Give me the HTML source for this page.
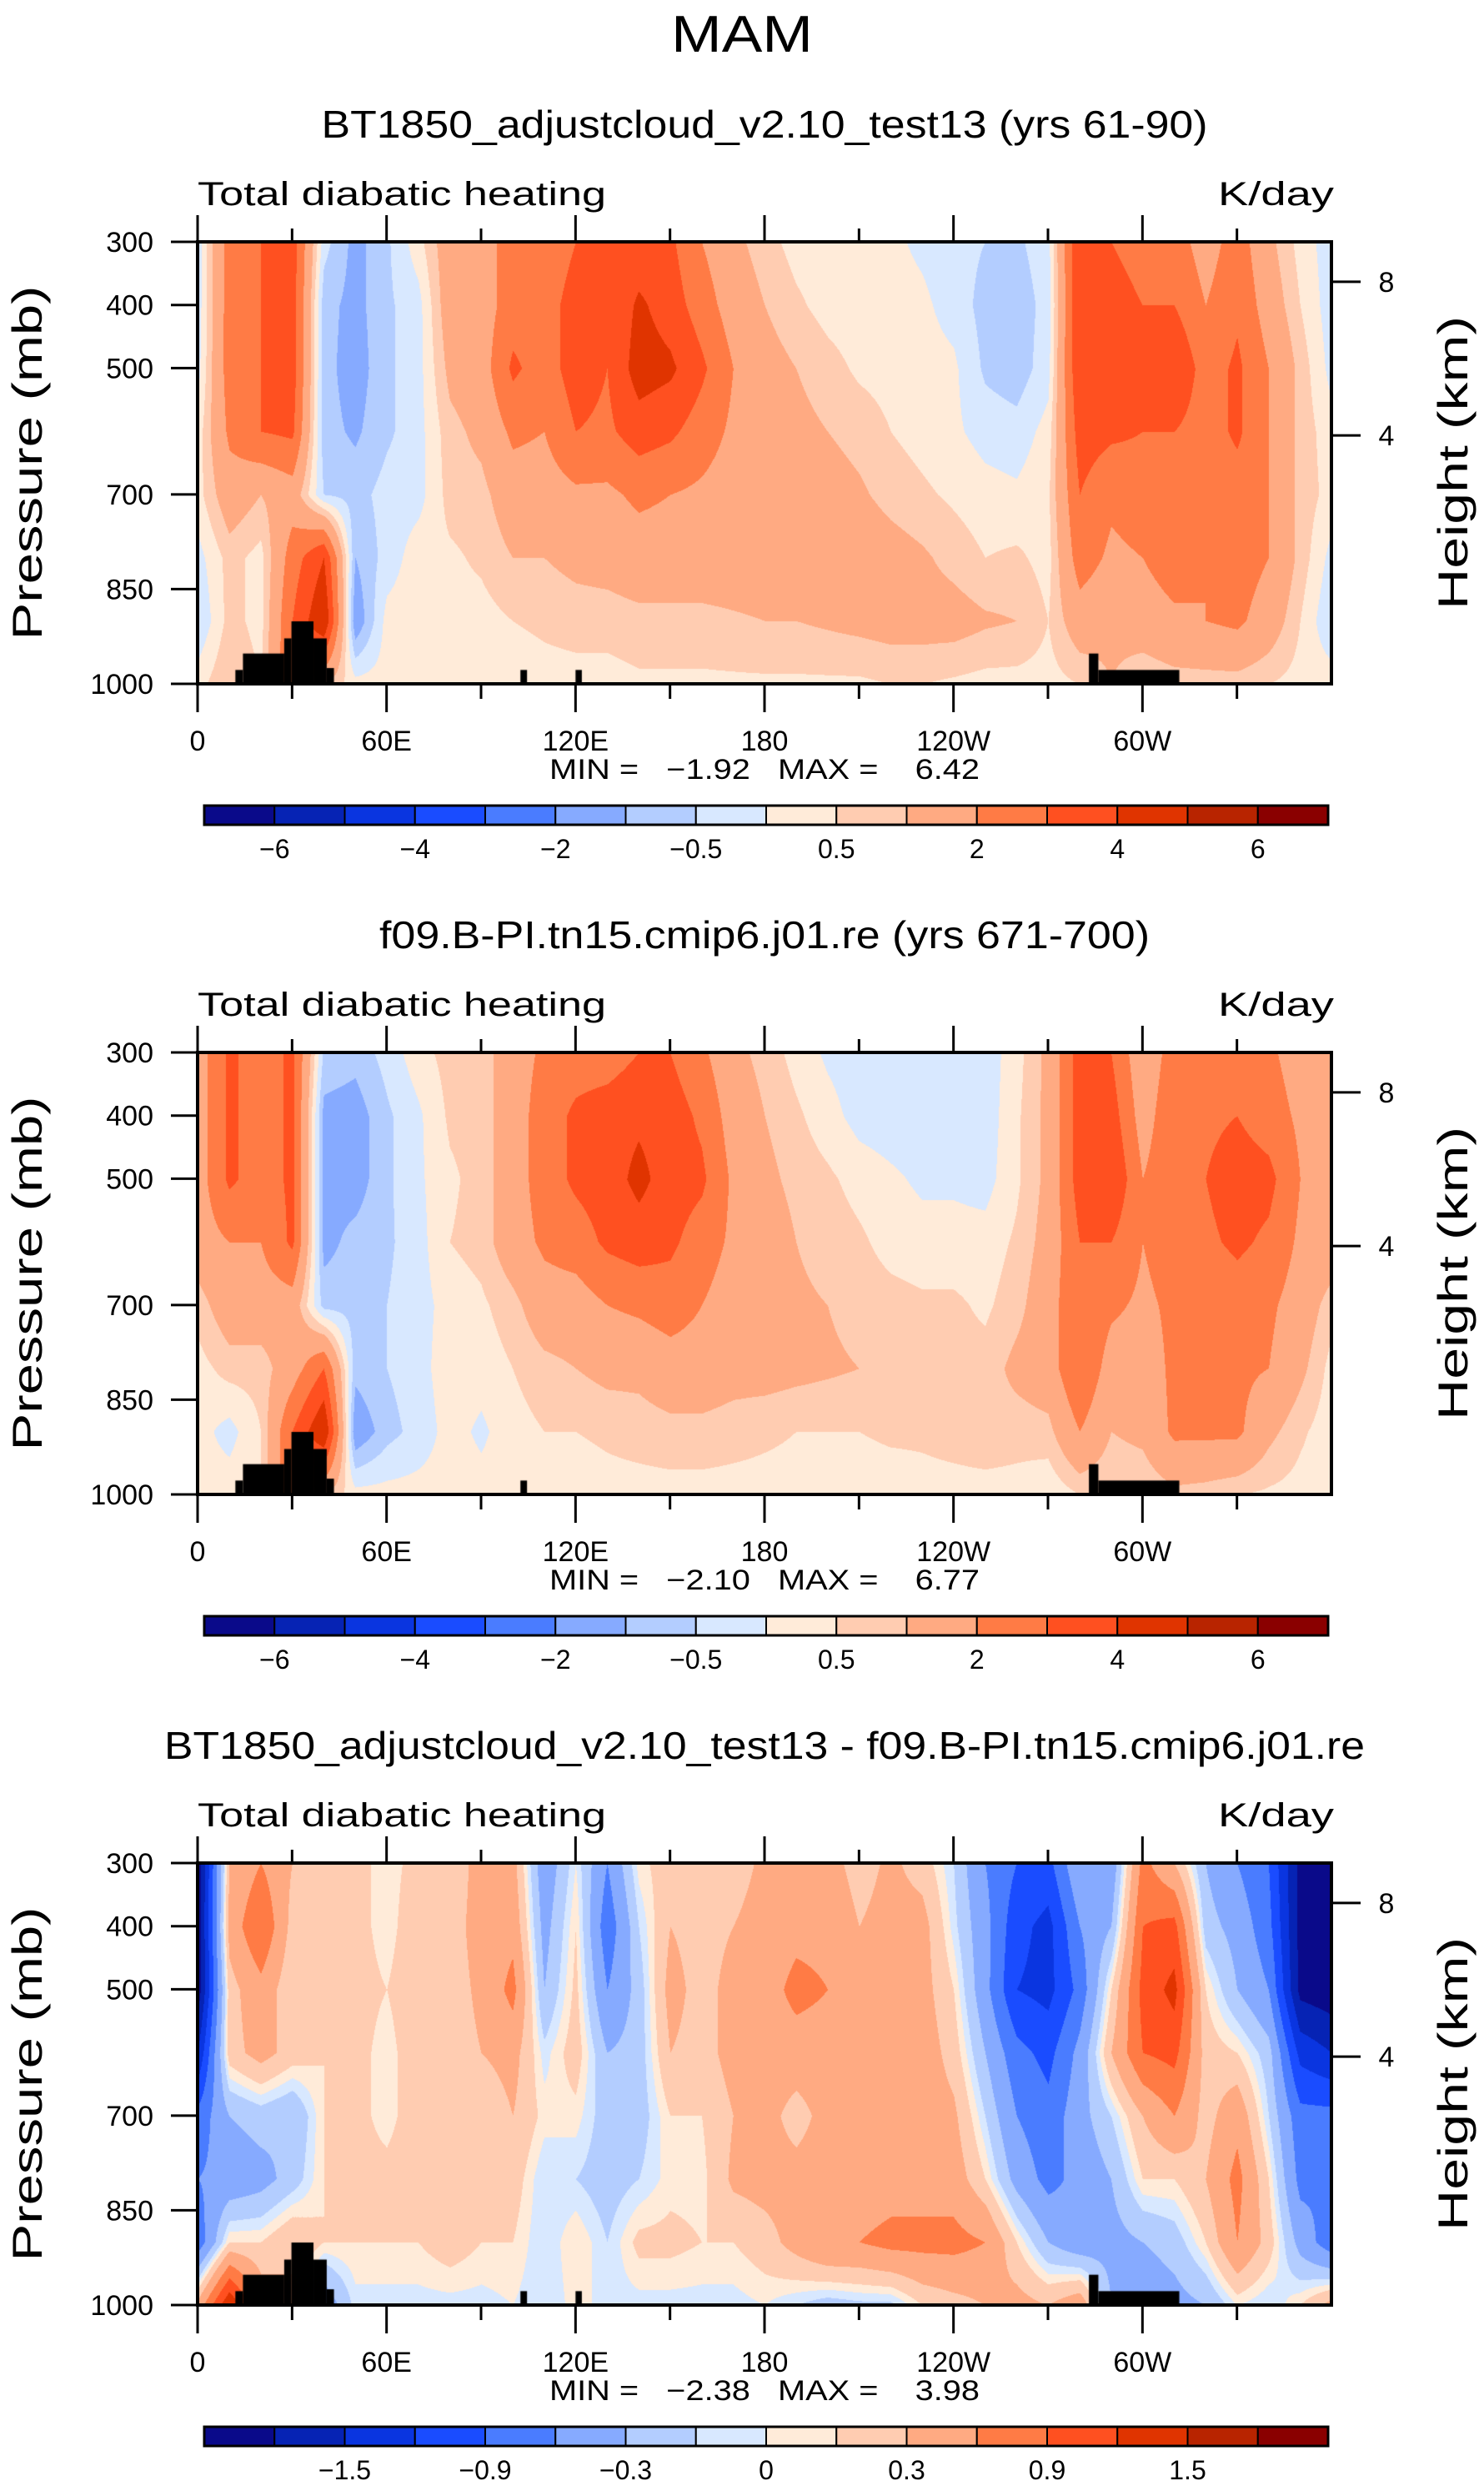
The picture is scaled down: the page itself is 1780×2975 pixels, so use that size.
<!DOCTYPE html>
<html><head><meta charset="utf-8">
<style>
html,body{margin:0;padding:0;background:#fff;}
#wrap{position:relative;width:1780px;height:2975px;overflow:hidden;}
canvas{position:absolute;}
svg{position:absolute;left:0;top:0;}
text{font-family:"Liberation Sans",sans-serif;fill:#000;}
</style></head>
<body>
<div id="wrap">
<canvas id="c0" width="1360" height="530" style="left:237px;top:290px"></canvas>
<canvas id="c1" width="1360" height="530" style="left:237px;top:1262px"></canvas>
<canvas id="c2" width="1360" height="530" style="left:237px;top:2234px"></canvas>
<svg id="ov" width="1780" height="2975" xmlns="http://www.w3.org/2000/svg"></svg>
</div>
<script>
// ---- data ----
const lons = [0,10,20,30,40,50,60,70,80,90,100,110,120,130,140,150,160,170,180,190,200,210,220,230,240,250,260,270,280,290,300,310,320,330,340,350,360];
const pressures = [300,400,500,600,700,800,900,1000];
// values per longitude column: [300,400,500,600,700,800,900,1000]
const field1 = [
[-0.3,-0.3,-0.2,0.2,0.3,-0.2,-0.5,0.3],
[2.5,2.5,2.5,2.2,1.5,0.7,0.7,1],
[3,3,3,3,1,0.3,0.3,0.5],
[3.5,3.5,3.5,3.2,1.5,2.5,3,3],
[-0.3,-0.8,-0.8,-0.8,-0.5,4,5,1],
[-1.2,-1.2,-1.3,-1.1,-0.7,-1,-1.5,0.2],
[-0.6,-0.6,-0.6,-0.6,-0.3,-0.3,0.2,0.2],
[0.3,-0.2,-0.2,-0.2,-0.2,0.3,0.3,0.2],
[1.5,1.5,1.2,0.8,0.7,0.4,0.3,0.2],
[1.5,1.5,1.5,1.2,0.8,0.6,0.3,0.2],
[2.5,2.5,3.2,2.2,1.5,1,0.5,0.2],
[2.2,2.5,2.5,2,1.5,1,0.6,0.3],
[3,3.5,3.5,3,1.8,1.2,0.7,0.3],
[3,3,3,2.8,1.8,1.3,0.7,0.3],
[3.3,4.2,4.5,3.5,2.2,1.5,0.8,0.4],
[3.2,3.5,4.2,3.2,2,1.5,0.8,0.4],
[2,2.5,3.2,2.5,1.8,1.5,0.8,0.4],
[1.2,1.5,2,1.8,1.5,1.5,0.9,0.4],
[0.7,1,1.3,1.5,1.5,1.5,1,0.4],
[0.3,0.6,1,1.2,1.5,1.5,1,0.4],
[0.2,0.3,0.7,1,1.3,1.5,1.1,0.4],
[0.1,0.2,0.4,0.8,1.1,1.5,1.2,0.4],
[0.1,0.2,0.3,0.5,0.8,1.3,1.3,0.5],
[-0.1,0.1,0.2,0.3,0.6,1.1,1.3,0.5],
[-0.3,-0.2,0.1,0.1,0.4,0.8,1.3,0.4],
[-0.5,-0.7,-0.6,-0.2,0.2,0.5,1.1,0.3],
[-0.6,-0.8,-0.8,-0.3,0.1,0.6,1,0.3],
[-0.2,-0.3,-0.2,0.2,0.4,0.3,0.5,0.3],
[4,4,4,3.5,3,2.5,1.5,0.5],
[3,3.5,4,3.2,2.2,1.8,1.2,1],
[2.5,3,3.2,3,2.5,2,1.5,0.5],
[2.5,3,4,3,2.8,2.5,1.8,0.7],
[1.5,2,2.5,2.5,2.2,2,2,0.7],
[2.5,2.8,3.2,3.2,2.5,2.5,2.2,0.7],
[1.2,1.5,2,2,2,2,1.5,0.5],
[0.3,0.5,0.8,0.8,0.8,0.8,0.5,0.3],
[-0.3,-0.3,-0.2,0.2,0.3,-0.2,-0.5,0.3]
];
const field2 = [
[1.5,1.5,1.5,1.5,0.7,0.3,0.2,0.2],
[3.2,3.2,3.2,2,1.5,0.7,-0.2,0.3],
[2.5,2.5,2.5,2,1.5,0.7,0.5,0.5],
[3.2,3.2,3.2,3.2,1.5,1.5,3,3],
[-0.6,-1.2,-1.2,-1.2,-0.7,3,5,1],
[-0.8,-1.3,-1.3,-0.8,-0.7,-0.8,-1.5,0.2],
[-0.3,-0.6,-0.6,-0.6,-0.5,-0.5,-0.7,0.2],
[0.3,-0.1,-0.1,-0.2,-0.2,-0.2,-0.3,0.2],
[0.7,0.6,0.4,0.5,0.2,0.3,0.2,0.2],
[0.7,0.7,0.7,0.7,0.4,0.2,-0.1,0.2],
[1.5,1.5,1.5,1.5,0.8,0.5,0.3,0.2],
[2.2,2.5,2.5,2.2,1.5,0.8,0.5,0.2],
[2.5,3.2,3.2,2.5,1.5,1,0.5,0.2],
[2.5,3.5,3.5,3.2,2,1.2,0.6,0.3],
[3,3.8,4.3,3.5,2.2,1.2,0.7,0.3],
[3,3.5,3.5,3.2,2.5,1.5,0.8,0.3],
[2.2,2.8,3.2,2.5,2,1.5,0.8,0.3],
[1.2,1.5,1.8,1.8,1.5,1.3,0.7,0.3],
[0.8,1,1.2,1.5,1.5,1.3,0.6,0.3],
[0.3,0.6,0.8,1,1.1,1.2,0.5,0.3],
[-0.1,0.2,0.6,0.8,1,1.1,0.5,0.2],
[-0.3,-0.2,0.3,0.6,0.8,1,0.5,0.2],
[-0.3,-0.3,0.1,0.3,0.7,0.8,0.6,0.2],
[-0.3,-0.3,-0.1,0.2,0.6,0.7,0.6,0.3],
[-0.3,-0.3,-0.1,0.2,0.6,0.7,0.7,0.3],
[-0.3,-0.3,-0.2,0.2,0.4,0.7,0.8,0.3],
[0.3,0.4,0.4,0.6,0.8,1.2,0.7,0.3],
[1.2,1.2,1.2,1.3,1.5,1.5,0.8,0.1],
[3.5,3.5,3.5,3,3,3,2,0.5],
[3,3.5,4,3,2.2,1.5,1,0.5],
[1.2,1.5,2,2,1.8,1.5,1.2,0.5],
[2.5,2.8,2.8,2.5,2.2,2.2,2.2,0.8],
[2.5,2.8,3,2.8,2.2,2.2,2.2,0.7],
[2.5,3,3.5,3.2,2.5,2.2,2.2,0.5],
[2.2,2.5,3.3,2.8,2.2,2,1.2,0.4],
[1.5,1.8,2,1.8,1.5,1.2,0.6,0.3],
[1.5,1.5,1.5,1.5,0.7,0.3,0.2,0.2]
];
const field3 = [
[-2,-2,-2,-1.5,-0.8,-0.6,-0.8,0.4],
[0.3,0.4,0.2,0.2,-0.3,-0.5,0.1,1.5],
[0.6,0.9,0.5,0.4,-0.2,-0.4,0.1,0.5],
[0.3,0.2,0.1,0.2,-0.3,-0.2,0.3,0.3],
[0.2,0.2,0.1,0.1,0.1,0.1,0.1,-0.5],
[0.15,0.15,0.15,0.15,0.15,0.15,0.1,-0.05],
[0.05,0.05,0.1,0.05,0.05,0.15,0.1,-0.05],
[0.15,0.2,0.2,0.2,0.2,0.2,0.1,-0.05],
[0.15,0.2,0.2,0.2,0.15,0.15,0.2,-0.05],
[0.4,0.4,0.35,0.3,0.1,0.15,0.1,-0.05],
[0.4,0.5,0.7,0.4,0.3,0.2,0.1,0],
[-0.5,-0.4,-0.3,-0.05,0.05,-0.1,-0.1,-0.1],
[0,0.1,0.15,0.2,0.05,-0.1,0.1,0.05],
[-0.6,-0.8,-0.6,-0.3,-0.2,-0.2,-0.1,-0.05],
[0.05,-0.1,-0.2,-0.2,-0.2,-0.1,0.15,-0.05],
[0.2,0.3,0.4,0.3,0.1,0.05,0.15,-0.05],
[0.1,0.2,0.2,0.2,0.1,0.05,0.1,-0.05],
[0.2,0.3,0.4,0.4,0.3,0.35,0.1,-0.05],
[0.35,0.4,0.45,0.45,0.4,0.4,0.2,0],
[0.4,0.5,0.7,0.45,0.2,0.4,0.4,-0.1],
[0.4,0.5,0.6,0.45,0.4,0.45,0.6,-0.2],
[0.2,0.3,0.4,0.4,0.4,0.4,0.6,-0.15],
[0.35,0.4,0.4,0.45,0.45,0.45,0.7,-0.15],
[0.2,0.4,0.4,0.45,0.45,0.45,0.7,0.1],
[-0.1,-0.05,0.1,0.2,0.35,0.45,0.7,0.2],
[-0.6,-0.5,-0.5,-0.3,-0.1,0.1,0.6,0.3],
[-0.9,-1.1,-1.2,-0.8,-0.6,-0.4,0.1,0.4],
[-1,-1.3,-1.3,-1,-0.8,-0.7,-0.3,0.3],
[-0.3,-0.6,-0.8,-0.5,-0.4,-0.5,-0.5,0.5],
[-0.5,-0.3,0.1,0.3,-0.1,-0.3,-0.4,-0.3],
[0.7,0.9,1,0.9,0.3,0.1,-0.3,-0.5],
[0.3,1,1.3,1,0.6,0.1,-0.2,-0.4],
[-0.3,-0.2,0.1,0.2,0.2,0.3,0.1,-0.3],
[-0.6,-0.4,-0.3,0.1,0.5,0.7,0.6,0],
[-0.9,-0.8,-0.6,-0.2,-0.1,0.1,0.2,-0.1],
[-1.9,-1.9,-1.9,-1.3,-0.8,-0.7,-0.4,0.1],
[-2,-2,-2,-1.5,-0.8,-0.6,-0.8,0.4]
];
const levelsK = [-6,-5,-4,-3,-2,-1,-0.5,0,0.5,1,2,3,4,5,6];
const levelsD = [-1.8,-1.5,-1.2,-0.9,-0.6,-0.3,-0.1,0,0.1,0.3,0.6,0.9,1.2,1.5,1.8];
const labelsK = ["-6","-4","-2","-0.5","0.5","2","4","6"];
const labelsD = ["-1.5","-0.9","-0.3","0","0.3","0.9","1.5"];
// topography: [lon start, lon end, top pressure]
const topoStart = [12,14.4,27.5,29.8,36.8,41,102.5,120,283,286];
const topoEnd   = [14.4,27.5,29.8,36.8,41,43.3,104.6,122,286,311.7];
const topoTop   = [978,952,928,901,928,975,978,978,952,978];
const titles = ["BT1850_adjustcloud_v2.10_test13 (yrs 61-90)","f09.B-PI.tn15.cmip6.j01.re (yrs 671-700)","BT1850_adjustcloud_v2.10_test13 - f09.B-PI.tn15.cmip6.j01.re"];
const minVals = ["\u22121.92","\u22122.10","\u22122.38"];
const maxVals = ["6.42","6.77","3.98"];
const xTickLabels = ["0","60E","120E","180","120W","60W"];
const xTickLons = [0,60,120,180,240,300];
const yTickP = [300,400,500,700,850,1000];
const hTickKm = [8,4];

const palette = ["#0a0a8a","#0623b4","#0a35e0","#1a4cff","#4a7cff","#86aaff","#b3cdff","#d8e8ff","#ffebd9","#ffccb1","#ffaa82","#ff7b45","#ff5020","#e03400","#b82400","#8a0000"];

// ---- geometry ----
const X0=237, W=1360, H=530;
const tops=[290,1262,2234];
const xOf = lon => X0 + lon/360*W;
const yOf = (p,top) => top + (p-300)/700*H;
const hKmToP = km => 1013*Math.exp(-km/7.8);

function sample(field, lon, p){
  let i=Math.min(Math.floor(lon/10), lons.length-2);
  let fx=(lon-lons[i])/10;
  let j=0; while(j<pressures.length-2 && p>pressures[j+1]) j++;
  let fy=(p-pressures[j])/(pressures[j+1]-pressures[j]);
  const a=field[i][j], b=field[i+1][j], c=field[i][j+1], d=field[i+1][j+1];
  return (a*(1-fx)+b*fx)*(1-fy)+(c*(1-fx)+d*fx)*fy;
}
function hex(h){return [parseInt(h.substr(1,2),16),parseInt(h.substr(3,2),16),parseInt(h.substr(5,2),16)];}
const palRGB = palette.map(hex);

function drawPanel(ci, field, levels){
  const cv=document.getElementById('c'+ci), ctx=cv.getContext('2d');
  const img=ctx.createImageData(W,H);
  for(let py=0;py<H;py++){
    const p=300+py/H*700;
    for(let px=0;px<W;px++){
      const lon=px/W*360;
      const v=sample(field,lon,p);
      let k=0; while(k<levels.length && v>=levels[k]) k++;
      const c=palRGB[k]; const o=(py*W+px)*4;
      img.data[o]=c[0];img.data[o+1]=c[1];img.data[o+2]=c[2];img.data[o+3]=255;
    }
  }
  ctx.putImageData(img,0,0);
  ctx.fillStyle="#000";
  for(let t=0;t<topoStart.length;t++){
    if(ci===1 && topoStart[t]===120) continue;
    const x=topoStart[t]/360*W, x2=topoEnd[t]/360*W;
    const y=(topoTop[t]-300)/700*H;
    ctx.fillRect(x,y,x2-x,H-y);
  }
}
drawPanel(0,field1,levelsK);
drawPanel(1,field2,levelsK);
drawPanel(2,field3,levelsD);

// ---- overlay ----
const NS="http://www.w3.org/2000/svg";
const svg=document.getElementById('ov');
function el(tag,attrs,txt){const e=document.createElementNS(NS,tag);for(const k in attrs)e.setAttribute(k,attrs[k]);if(txt!==undefined)e.textContent=txt;svg.appendChild(e);return e;}

let t=el('text',{x:890,y:62,'font-size':62,'text-anchor':'middle','font-weight':'300',textLength:170,lengthAdjust:'spacingAndGlyphs'},'MAM');



for(let k=0;k<3;k++){
  const top=tops[k], bot=top+H;
  const levels = k<2?levelsK:levelsD;
  const labels = k<2?labelsK:labelsD;
  const tw = k===0?1063:(k===1?924:1440);
  t=el('text',{x:917,y:top-125,'font-size':46,'text-anchor':'middle',textLength:tw,lengthAdjust:'spacingAndGlyphs'},titles[k]);
  
  
  t=el('text',{x:237,y:top-44,'font-size':40,textLength:490,lengthAdjust:'spacingAndGlyphs'},'Total diabatic heating');
  
  
  t=el('text',{x:1600,y:top-44,'font-size':40,'text-anchor':'end',textLength:139,lengthAdjust:'spacingAndGlyphs'},'K/day');
  
  
  t=el('rect',{x:X0,y:top,width:W,height:H,fill:'none',stroke:'#000','stroke-width':4});
  
  
  for(let lon=0;lon<=330;lon+=30){
    const x=xOf(lon), major=lon%60===0;
    t=el('line',{x1:x,x2:x,y1:bot,y2:bot+(major?34:18),stroke:'#000','stroke-width':3});
    
    
    t=el('line',{x1:x,x2:x,y1:top,y2:top-(major?32:16),stroke:'#000','stroke-width':3});
    
    
  }
  for(let i=0;i<xTickLabels.length;i++){
    t=el('text',{x:xOf(xTickLons[i]),y:bot+80,'font-size':34,'text-anchor':'middle'},xTickLabels[i]);
    
    
  }
  t=el('text',{x:917,y:bot+114,'font-size':34,'text-anchor':'middle',style:'white-space:pre',textLength:516,lengthAdjust:'spacingAndGlyphs'},'MIN =   '+minVals[k]+'   MAX =    '+maxVals[k]);
  
  
  for(const p of yTickP){
    const y=yOf(p,top);
    t=el('line',{x1:205,x2:X0,y1:y,y2:y,stroke:'#000','stroke-width':3});
    
    
    t=el('text',{x:184,y:y+12,'font-size':34,'text-anchor':'end'},String(p));
    
    
  }
  for(const km of hTickKm){
    const y=yOf(hKmToP(km),top);
    t=el('line',{x1:X0+W,x2:X0+W+35,y1:y,y2:y,stroke:'#000','stroke-width':3});
    
    
    t=el('text',{x:1663,y:y+12,'font-size':34,'text-anchor':'middle'},String(km));
    
    
  }
  const cy=top+H/2;
  t=el('text',{x:0,y:0,'font-size':50,'text-anchor':'middle',transform:'translate(50,'+cy+') rotate(-90)',textLength:425,lengthAdjust:'spacingAndGlyphs'},'Pressure  (mb)');
  
  
  t=el('text',{x:0,y:0,'font-size':50,'text-anchor':'middle',transform:'translate(1760,'+cy+') rotate(-90)',textLength:352,lengthAdjust:'spacingAndGlyphs'},'Height  (km)');
  
  
  const cbx=245, cbw=1348, cby=bot+146, cbh=23, bw=cbw/16;
  for(let i=0;i<16;i++){
    t=el('rect',{x:cbx+i*bw,y:cby,width:bw,height:cbh,fill:palette[i],stroke:'#000','stroke-width':2});
    
    
  }
  t=el('rect',{x:cbx,y:cby,width:cbw,height:cbh,fill:'none',stroke:'#000','stroke-width':3});
  
  
  const start = k<2?1:2;
  for(let i=0;i<labels.length;i++){
    const b=start+i*2;
    t=el('text',{x:cbx+b*bw,y:cby+cbh+40,'font-size':32,'text-anchor':'middle'},labels[i].replace('-','\u2212'));
    
    
  }
}
</script>
</body></html>
